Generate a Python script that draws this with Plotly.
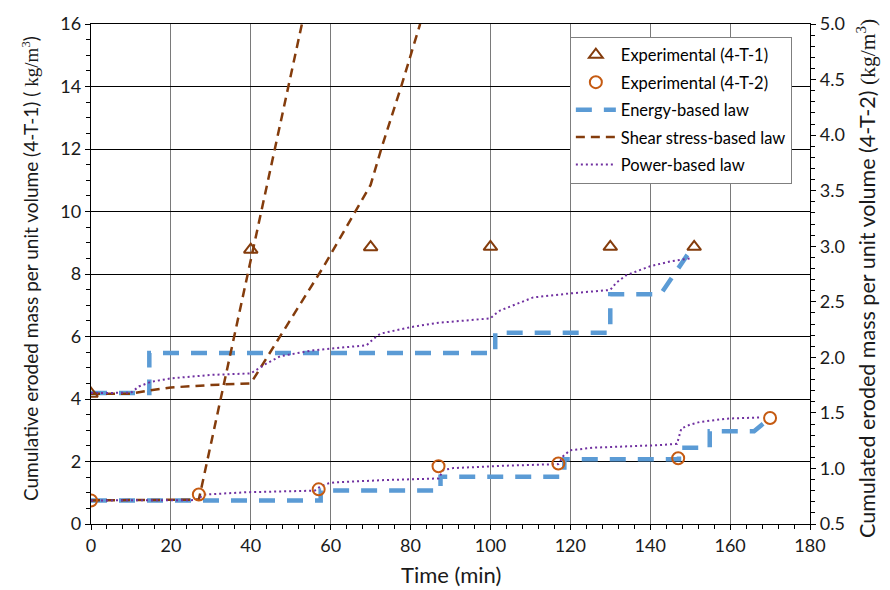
import plotly.graph_objects as go

# ---- 4-T-1 (left axis) ----
exp1_t = [0, 40, 70, 100, 130, 151]
exp1_m = [4.17, 8.78, 8.86, 8.87, 8.87, 8.87]

energy1_t = [0, 14.6, 14.6, 101.2, 101.2, 130, 130, 142.6, 149.5]
energy1_m = [4.19, 4.19, 5.47, 5.47, 6.12, 6.12, 7.35, 7.35, 8.65]

shear1_t = [0, 10, 14, 20, 32, 40, 58.2, 66.5, 70, 72.8, 77.8, 82.4]
shear1_m = [4.17, 4.17, 4.26, 4.37, 4.46, 4.5, 8.23, 10.05, 10.85, 12.06, 14.06, 16.0]

power1_t = [0, 10, 12, 15, 20, 30, 40, 42, 44, 47.4, 55.7, 69, 70.5, 72.4, 80, 87, 100,
            101, 102.4, 110.7, 120, 130, 131.5, 134, 140, 145, 150]
power1_m = [4.19, 4.2, 4.4, 4.55, 4.66, 4.77, 4.82, 4.98, 5.14, 5.37, 5.56, 5.72, 5.9,
            6.09, 6.3, 6.44, 6.58, 6.7, 6.83, 7.25, 7.38, 7.49, 7.72, 7.96, 8.25, 8.4, 8.5]

# ---- 4-T-2 (right axis) ----
exp2_t = [0, 27, 57, 87, 117, 147, 170]
exp2_m = [0.712, 0.765, 0.812, 1.02, 1.045, 1.092, 1.454]

energy2_t = [0, 57.5, 57.5, 87.5, 87.5, 118.5, 118.5, 147.2, 147.2, 154.9, 154.9, 166, 170]
energy2_m = [0.712, 0.712, 0.801, 0.801, 0.926, 0.926, 1.083, 1.083, 1.187, 1.187, 1.335, 1.335, 1.454]

shear2_t = [0, 27, 52.8]
shear2_m = [0.712, 0.72, 5.0]

power2_t = [0, 26.5, 27.5, 28.5, 39, 56, 57.5, 59.5, 61, 74, 87, 88.2, 90.7, 103, 117,
            118.2, 119.9, 125.7, 142.4, 146.7, 147.8, 150, 152.4, 159, 168]
power2_m = [0.712, 0.715, 0.745, 0.765, 0.786, 0.80, 0.84, 0.866, 0.875, 0.896, 0.91,
            0.985, 1.003, 1.024, 1.039, 1.11, 1.163, 1.187, 1.21, 1.222, 1.36, 1.395,
            1.418, 1.448, 1.46]

BLUE = "#5B9BD5"
BROWN = "#843C0C"
ORANGE = "#C55A11"
PURPLE = "#7030A0"
FONT = "Lato"
TEXT = "#1a1a1a"

energy_line = dict(color=BLUE, width=4.5, dash="16px,12px")
shear_line = dict(color=BROWN, width=2.5, dash="9px,6px")
power_line = dict(color=PURPLE, width=2, dash="2px,3px")

fig = go.Figure()

# model curves
fig.add_trace(go.Scatter(x=energy1_t, y=energy1_m, mode="lines", line=energy_line,
                         name="Energy-based law", legendgroup="energy", legendrank=3))
fig.add_trace(go.Scatter(x=energy2_t, y=energy2_m, mode="lines", line=energy_line, yaxis="y2",
                         name="Energy-based law", legendgroup="energy", showlegend=False))
fig.add_trace(go.Scatter(x=shear1_t, y=shear1_m, mode="lines", line=shear_line,
                         name="Shear stress-based law", legendgroup="shear", legendrank=4))
fig.add_trace(go.Scatter(x=shear2_t, y=shear2_m, mode="lines", line=shear_line, yaxis="y2",
                         name="Shear stress-based law", legendgroup="shear", showlegend=False))
fig.add_trace(go.Scatter(x=power1_t, y=power1_m, mode="lines", line=power_line,
                         name="Power-based law", legendgroup="power", legendrank=5))
fig.add_trace(go.Scatter(x=power2_t, y=power2_m, mode="lines", line=power_line, yaxis="y2",
                         name="Power-based law", legendgroup="power", showlegend=False))

# experimental points
fig.add_trace(go.Scatter(x=exp1_t, y=exp1_m, mode="markers", name="Experimental (4-T-1)",
                         legendgroup="e1", legendrank=1,
                         marker=dict(symbol="triangle-up-open", size=12, color=BROWN,
                                     line=dict(width=2, color=BROWN))))
fig.add_trace(go.Scatter(x=exp2_t, y=exp2_m, mode="markers", name="Experimental (4-T-2)",
                         legendgroup="e2", legendrank=2, yaxis="y2",
                         marker=dict(symbol="circle-open", size=12, color=ORANGE,
                                     line=dict(width=2, color=ORANGE))))

tickfont = dict(family=FONT, size=18, color=TEXT)

fig.update_layout(
    width=890, height=590,
    margin=dict(l=91, r=80, t=18, b=66),
    paper_bgcolor="white", plot_bgcolor="white",
    font=dict(family=FONT, color=TEXT),
    xaxis=dict(range=[0, 180], dtick=20, tick0=0, showgrid=True, gridcolor="#7a7a7a",
               gridwidth=1.4, showline=True, linecolor="black", linewidth=1.3, mirror=True,
               ticks="outside", ticklen=5, tickcolor="black", tickfont=tickfont,
               zeroline=False,
               minor=dict(dtick=4, ticks="outside", ticklen=4, tickcolor="black", showgrid=False)),
    yaxis=dict(range=[0, 16], dtick=2, tick0=0, showgrid=True, gridcolor="black",
               gridwidth=1, showline=True, linecolor="black", linewidth=1.3,
               ticks="outside", ticklen=5, tickcolor="black", tickfont=tickfont,
               zeroline=False,
               minor=dict(dtick=0.5, ticks="outside", ticklen=4, tickcolor="black", showgrid=False)),
    yaxis2=dict(range=[0.5, 5.0], dtick=0.5, tick0=0.5, tickformat=".1f", overlaying="y",
                side="right", showgrid=False, showline=True, linecolor="black", linewidth=1.3,
                ticks="outside", ticklen=5, tickcolor="black", tickfont=tickfont,
                zeroline=False,
                minor=dict(dtick=0.1, ticks="outside", ticklen=4, tickcolor="black", showgrid=False)),
    legend=dict(x=0.666, y=0.975, xanchor="left", yanchor="top", bgcolor="white",
                bordercolor="#7f7f7f", borderwidth=1, font=dict(family=FONT, size=16.5, color="black"),
                itemwidth=40, tracegroupgap=3),
    showlegend=True,
)

serif = "font-family:'Liberation Serif'"
fig.add_annotation(
    text=f"Cumulative eroded mass per unit volume (4-T-1) ( <span style=\"{serif}\">kg/m<sup>3</sup></span>)",
    xref="paper", yref="paper", x=-0.0848, y=0.51, textangle=-90, showarrow=False,
    xanchor="center", yanchor="middle", font=dict(family=FONT, size=19, color=TEXT))
fig.add_annotation(
    text=f"Cumulated eroded mass per unit volume (4-T-2) <span style=\"{serif}\">(kg/m<sup>3</sup>)</span>",
    xref="paper", yref="paper", x=1.0779, y=0.49, textangle=-90, showarrow=False,
    xanchor="center", yanchor="middle", font=dict(family=FONT, size=21.5, color=TEXT))
fig.add_annotation(
    text="Time (min)", xref="paper", yref="paper", x=0.5, y=-0.101, showarrow=False,
    xanchor="center", yanchor="middle", font=dict(family=FONT, size=22, color=TEXT))

fig.write_html("out.html")
